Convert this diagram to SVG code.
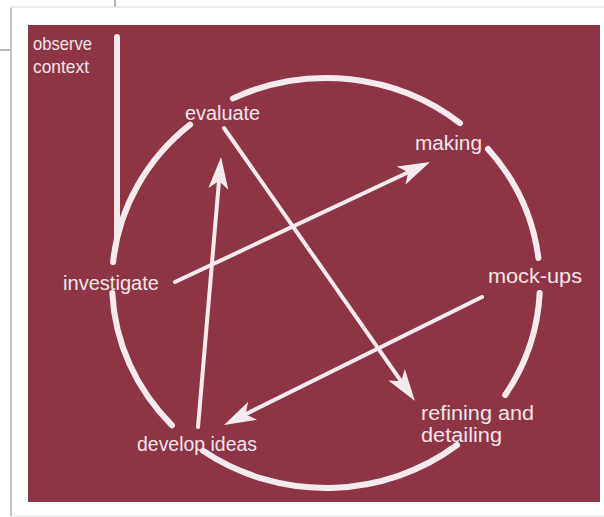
<svg xmlns="http://www.w3.org/2000/svg" width="604" height="517" viewBox="0 0 604 517">
  <style>
    .lbl { font-family: "Liberation Sans", Arial, Helvetica, sans-serif; font-size: 20px; fill: #f3e4ea; }
    .small { font-size: 19px; }
    .ring { fill: none; stroke: #f5eaee; stroke-width: 6; stroke-linecap: round; }
    .arrow { fill: none; stroke: #f5eaee; stroke-width: 4; stroke-linecap: round; marker-end: url(#head); }
  </style>
  <defs>
    <marker id="head" markerUnits="userSpaceOnUse" markerWidth="34" markerHeight="24" refX="8" refY="12" orient="auto" viewBox="0 0 34 24">
      <path d="M32,12 L0,2 L8,12 L0,22 Z" fill="#f5eaee"/>
    </marker>
  </defs>

  <!-- page background and scan frame -->
  <rect x="0" y="0" width="604" height="517" fill="#ffffff"/>
  <line x1="115" y1="0" x2="115" y2="8" stroke="#9a9a9a" stroke-width="1.5"/>
  <line x1="0" y1="50" x2="11" y2="50" stroke="#9a9a9a" stroke-width="1.5"/>
  <rect x="11" y="7" width="620" height="509" fill="#ffffff" stroke="#dcdcdc" stroke-width="1"/>
  <line x1="11" y1="8" x2="11" y2="516" stroke="#c4c4c4" stroke-width="2"/>
  <rect x="28" y="25" width="572" height="477" fill="#8d3545"/>

  <!-- cycle ring -->
  <g id="cycle">
    <path class="ring" d="M233,98.4 A214,205 0 0,1 460,123.2"/>
    <path class="ring" d="M488,149 A214,205 0 0,1 538.4,258"/>
    <path class="ring" d="M539.7,293 A214,205 0 0,1 505.2,395"/>
    <path class="ring" d="M457,445 A214,205 0 0,1 203,450.8"/>
    <path class="ring" d="M172,425.3 A214,205 0 0,1 112.3,293"/>
    <path class="ring" d="M113.1,262 A214,205 0 0,1 190,124.7"/>
    <path class="ring" d="M117,37 L117,238"/>
  </g>

  <g id="connectors">
    <path class="arrow" d="M175,282 L408.3,172.2"/>
    <path class="arrow" d="M198,427 L219,180.9"/>
    <path class="arrow" d="M224,128 L401.2,381.3"/>
    <path class="arrow" d="M482,297 L245.5,414.3"/>
  </g>

  <g id="observe-context">
    <text class="lbl small" x="33" y="50" textLength="59" lengthAdjust="spacingAndGlyphs">observe</text>
    <text class="lbl small" x="33" y="73" textLength="56" lengthAdjust="spacingAndGlyphs">context</text>
  </g>
  <g id="evaluate">
    <text class="lbl" x="185" y="120" textLength="75" lengthAdjust="spacingAndGlyphs">evaluate</text>
  </g>
  <g id="making">
    <text class="lbl" x="415" y="150" textLength="67" lengthAdjust="spacingAndGlyphs">making</text>
  </g>
  <g id="investigate">
    <text class="lbl" x="63" y="290" textLength="96" lengthAdjust="spacingAndGlyphs">investigate</text>
  </g>
  <g id="mock-ups">
    <text class="lbl" x="488" y="283" textLength="94" lengthAdjust="spacingAndGlyphs">mock-ups</text>
  </g>
  <g id="develop-ideas">
    <text class="lbl" x="137" y="451" textLength="120" lengthAdjust="spacingAndGlyphs">develop ideas</text>
  </g>
  <g id="refining-and-detailing">
    <text class="lbl" x="421" y="420" textLength="113" lengthAdjust="spacingAndGlyphs">refining and</text>
    <text class="lbl" x="421" y="442" textLength="81" lengthAdjust="spacingAndGlyphs">detailing</text>
  </g>
</svg>
